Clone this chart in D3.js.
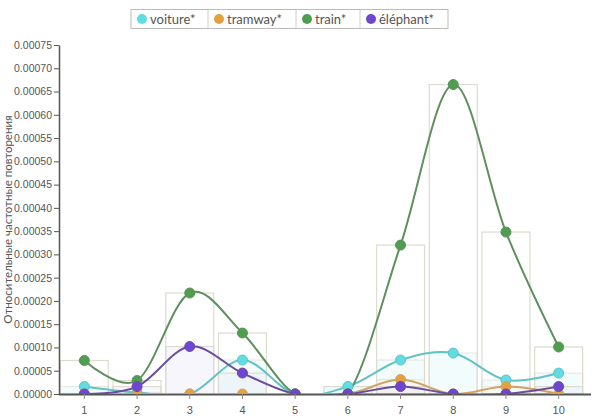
<!DOCTYPE html>
<html>
<head>
<meta charset="utf-8">
<script src="https://cdn.jsdelivr.net/npm/d3@7"></script>
<style>
  body { margin: 0; background: #fff; }
  svg { font-family: Lato, "Open Sans", sans-serif; }
</style>
</head>
<body>
<div id="container"></div>
<script>
/* CONSTANTS AND GLOBALS */
const width = 596;
const height = 419;
const margin = { top: 45, right: 10, bottom: 25, left: 59 };

/* DATA */
const categories = ["1", "2", "3", "4", "5", "6", "7", "8", "9", "10"];
const seriesNames = ["voiture*", "tramway*", "train*", "éléphant*"];
const voiture  = [0.000016, 0.000003, 0, 0.000073, 0, 0.000016, 0.000073, 0.000088, 0.00003, 0.000045];
const tramway  = [0, 0, 0, 0, 0, 0, 0.000031, 0, 0.000016, 0];
const train    = [0.000072, 0.000029, 0.000217, 0.000131, 0, 0, 0.00032, 0.000665, 0.000348, 0.000101];
const elephant = [0, 0.000016, 0.000102, 0.000045, 0, 0, 0.000016, 0, 0, 0.000016];
const yTicks = [0, 0.00005, 0.0001, 0.00015, 0.0002, 0.00025, 0.0003, 0.00035, 0.0004,
  0.00045, 0.0005, 0.00055, 0.0006, 0.00065, 0.0007, 0.00075];

const seriesValues = [voiture, tramway, train, elephant];
const pointColors = ["#5fdde3", "#e3a13f", "#4f9d4f", "#6f45d3"];
const lineColors  = ["#62c2c6", "#d2a265", "#5f8f5f", "#6b4c9e"];
const barFills    = ["#c8f2f4", "#fbecd6", "#ffffff", "#e6e6f6"];

const series = seriesNames.map((name, i) => ({
  name: name,
  values: seriesValues[i].map((v, j) => ({ cat: categories[j], value: v }))
}));

/* SVG */
const svg = d3.select("#container")
  .append("svg")
  .attr("width", width)
  .attr("height", height);

/* SCALES */
const xScale = d3.scaleBand()
  .domain(categories)
  .range([margin.left - 1, 585])
  .paddingInner(0.09)
  .paddingOuter(0.045);

const yScale = d3.scaleLinear()
  .domain([0, 0.00075])
  .range([height - margin.bottom, margin.top]);

const cx = d => xScale(d.cat) + xScale.bandwidth() / 2;

svg.append("defs").append("clipPath")
  .attr("id", "plot-clip")
  .append("rect")
  .attr("x", margin.left)
  .attr("y", 0)
  .attr("width", width - margin.left)
  .attr("height", yScale(0));

/* BARS (one pale bar per series in each category) */
svg.append("g")
  .selectAll("g")
  .data(series)
  .join("g")
    .attr("fill", (d, i) => barFills[i])
    .attr("fill-opacity", 0.35)
    .attr("stroke", "#dcdcd0")
    .attr("stroke-width", 1.2)
  .selectAll("rect")
  .data(d => d.values.filter(v => v.value > 0))
  .join("rect")
    .attr("x", d => xScale(d.cat))
    .attr("y", d => yScale(d.value))
    .attr("width", xScale.bandwidth())
    .attr("height", d => yScale(0) - yScale(d.value));

/* AXES */
const yAxis = d3.axisLeft(yScale)
  .tickValues(yTicks)
  .tickFormat(d3.format(".5f"))
  .tickSize(5)
  .tickSizeOuter(0);

const gy = svg.append("g")
  .attr("transform", `translate(${margin.left}, 0)`)
  .call(yAxis);
gy.select(".domain").attr("stroke", "#555").attr("stroke-width", 1.5);
gy.selectAll(".tick line").attr("stroke", "#555");
gy.selectAll(".tick text").attr("fill", "#555").attr("font-size", 10.5).attr("x", -7);

const xAxis = d3.axisBottom(xScale).tickSize(5).tickSizeOuter(0);
const gx = svg.append("g")
  .attr("transform", `translate(0, ${yScale(0)})`)
  .call(xAxis);
gx.select(".domain").attr("stroke", "#555").attr("stroke-width", 2)
  .attr("d", `M${margin.left},0.5H591`);
gx.selectAll(".tick line").attr("stroke", "#888");
gx.selectAll(".tick text").attr("fill", "#555").attr("font-size", 11).attr("dy", "1.1em");

/* LINES AND POINTS */
const line = d3.line()
  .x(cx)
  .y(d => yScale(d.value))
  .curve(d3.curveCardinal.tension(0));

const plot = svg.append("g").attr("clip-path", "url(#plot-clip)");

plot.selectAll(".line")
  .data(series)
  .join("path")
    .attr("class", "line")
    .attr("fill", "none")
    .attr("stroke", (d, i) => lineColors[i])
    .attr("stroke-width", 2)
    .attr("d", d => line(d.values));

plot.selectAll(".points")
  .data(series)
  .join("g")
    .attr("class", "points")
    .attr("fill", (d, i) => pointColors[i])
    .attr("stroke", (d, i) => lineColors[i])
    .attr("stroke-width", 1)
  .selectAll("circle")
  .data(d => d.values)
  .join("circle")
    .attr("cx", cx)
    .attr("cy", d => yScale(d.value))
    .attr("r", 5);

/* Y AXIS LABEL */
svg.append("text")
  .attr("transform", "rotate(-90)")
  .attr("x", -(margin.top + yScale(0)) / 2)
  .attr("y", 12)
  .attr("text-anchor", "middle")
  .attr("fill", "#555")
  .attr("font-size", 11.5)
  .text("Относительные частотные повторения");

/* LEGEND */
const legendX = [131, 208, 296, 360];
const legend = svg.append("g");
legend.append("rect")
  .attr("x", 131).attr("y", 9.5)
  .attr("width", 317).attr("height", 19)
  .attr("fill", "#fff")
  .attr("stroke", "#bbb");
const items = legend.selectAll(".item")
  .data(seriesNames)
  .join("g")
    .attr("class", "item")
    .attr("transform", (d, i) => `translate(${legendX[i]}, 9.5)`);
items.filter((d, i) => i > 0).append("line")
  .attr("y1", 0).attr("y2", 19)
  .attr("stroke", "#ccc");
items.append("circle")
  .attr("cx", 11).attr("cy", 9.5).attr("r", 5)
  .attr("fill", (d, i) => pointColors[i]);
items.append("text")
  .attr("x", 19).attr("y", 14)
  .attr("fill", "#555")
  .attr("font-size", 13)
  .text(d => d);
</script>
</body>
</html>
